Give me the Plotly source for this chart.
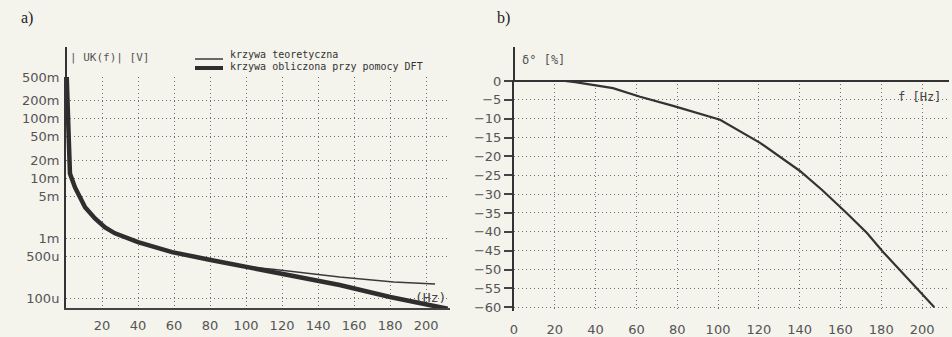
import plotly.graph_objects as go

# ---- data ----
f_theor = [0.4, 1.0, 1.5, 2.2, 5, 10.6, 16.1, 21.7, 27.2, 40, 58.9, 81.1, 101, 115, 152, 182, 205]
u_theor = [0.5, 0.2, 0.05, 0.0121, 0.0071, 0.0033, 0.00215, 0.00152, 0.00121, 0.00086, 0.000585,
           0.00043, 0.00033, 0.000304, 0.000224, 0.000185, 0.000171]

f_dft = [0.4, 1.0, 1.5, 2.2, 5, 10.6, 16.1, 21.7, 27.2, 40, 58.9, 81.1, 101, 125, 152, 180, 208, 212]
u_dft = [0.5, 0.2, 0.05, 0.0121, 0.0071, 0.0033, 0.00215, 0.00152, 0.00121, 0.00086, 0.000585,
         0.00043, 0.00033, 0.000238, 0.000165, 0.000104, 0.000068, 0.000066]

f_phase = [20, 25, 30, 40, 48.5, 61.8, 78, 101, 120.6, 140, 151, 163, 173, 181, 189, 197.5, 206]
phase = [0, 0, -0.3, -1.1, -1.9, -4.2, -6.6, -10.3, -16.4, -23.8, -28.9, -35, -40.3, -45.4, -50.1, -55, -60]

mag_tickvals = [1e-4, 5e-4, 1e-3, 5e-3, 1e-2, 2e-2, 5e-2, 0.1, 0.2, 0.5]
mag_ticktext = ["100u", "500u", "1m", "5m", "10m", "20m", "50m", "100m", "200m", "500m"]
freq_ticks_a = [20, 40, 60, 80, 100, 120, 140, 160, 180, 200]
freq_ticks_b = [0, 20, 40, 60, 80, 100, 120, 140, 160, 180, 200]
phase_ticks = [0, -5, -10, -15, -20, -25, -30, -35, -40, -45, -50, -55, -60]

legend_names = ["krzywa teoretyczna", "krzywa obliczona przy pomocy DFT"]

W, H = 952, 337
BG = "#f4f3ec"
TXT = "#555555"
GRID = "#6f6f6f"
DOTS = "1px,3px"


def dx(a, b):
    return [a / W, b / W]


def dy(top, bottom):
    return [1 - bottom / H, 1 - top / H]


fig = go.Figure()

fig.add_trace(go.Scatter(x=f_theor, y=u_theor, mode="lines", name=legend_names[0],
                         line=dict(color="#3a3a3a", width=1.5), xaxis="x", yaxis="y"))
fig.add_trace(go.Scatter(x=f_dft, y=u_dft, mode="lines", name=legend_names[1],
                         line=dict(color="#2e2e2e", width=4.5), xaxis="x", yaxis="y"))
fig.add_trace(go.Scatter(x=f_phase, y=phase, mode="lines", showlegend=False,
                         line=dict(color="#333333", width=2.2), xaxis="x2", yaxis="y2"))

tickfont = dict(family="DejaVu Sans", size=13, color=TXT)

fig.update_layout(
    width=W, height=H,
    margin=dict(l=0, r=0, t=0, b=0, pad=0, autoexpand=False),
    paper_bgcolor=BG, plot_bgcolor=BG,
    showlegend=False,
    xaxis=dict(domain=dx(66, 450), range=[0, 213.3], anchor="y", automargin=False,
               tickvals=freq_ticks_a, tickfont=tickfont,
               showgrid=True, gridcolor=GRID, griddash=DOTS, gridwidth=1,
               showline=True, linecolor="#444", linewidth=2,
               ticks="outside", ticklen=4, tickcolor="rgba(0,0,0,0)", zeroline=False),
    yaxis=dict(domain=dy(77, 308), type="log", range=[-4.167, -0.301], anchor="x", automargin=False,
               tickvals=mag_tickvals, ticktext=mag_ticktext, tickfont=tickfont,
               showgrid=True, gridcolor=GRID, griddash=DOTS, gridwidth=1,
               showline=True, linecolor="#333", linewidth=2,
               ticks="outside", ticklen=2, tickcolor="rgba(0,0,0,0)", zeroline=False),
    xaxis2=dict(domain=dx(514, 949), range=[0, 213.2], anchor="y2", automargin=False,
                tickvals=freq_ticks_b, tickfont=tickfont,
                showgrid=True, gridcolor=GRID, griddash=DOTS, gridwidth=1,
                showline=False, ticks="outside", ticklen=6, tickcolor="rgba(0,0,0,0)",
                zeroline=False),
    yaxis2=dict(domain=dy(80, 311), range=[-61.0, 0.26], anchor="x2", automargin=False,
                tickvals=phase_ticks, tickfont=tickfont,
                showgrid=True, gridcolor=GRID, griddash=DOTS, gridwidth=1,
                showline=True, linecolor="#333", linewidth=2,
                ticks="outside", ticklen=8, tickcolor="#444", tickwidth=1.5,
                zeroline=True, zerolinecolor="#333", zerolinewidth=2),
)

shapes = [
    # upward extension of axis lines
    dict(type="line", x0=66 / W, x1=66 / W, y0=1 - 77 / H, y1=1 - 47 / H,
         line=dict(color="#333", width=2)),
    dict(type="line", x0=514 / W, x1=514 / W, y0=1 - 80 / H, y1=1 - 47 / H,
         line=dict(color="#333", width=2)),
    # legend samples
    dict(type="line", x0=195 / W, x1=223 / W, y0=1 - 59 / H, y1=1 - 59 / H,
         line=dict(color="#3a3a3a", width=1.5)),
    dict(type="line", x0=195 / W, x1=223 / W, y0=1 - 68 / H, y1=1 - 68 / H,
         line=dict(color="#2e2e2e", width=4)),
]
for s in shapes:
    s.update(xref="paper", yref="paper")

mono = "DejaVu Sans Mono"
ann = [
    dict(text="a)", x=19 / W, y=1 - 18 / H, font=dict(family="Liberation Serif", size=16, color="#222")),
    dict(text="b)", x=495 / W, y=1 - 18 / H, font=dict(family="Liberation Serif", size=16, color="#222")),
    dict(text="| UK(f)| [V]", x=68 / W, y=1 - 58 / H, font=dict(family=mono, size=11, color="#555")),
    dict(text="δ° [%]", x=520 / W, y=1 - 60 / H, font=dict(family=mono, size=12, color="#555")),
    dict(text="(Hz)", x=413 / W, y=1 - 297 / H, font=dict(family=mono, size=13, color="#444")),
    dict(text="f [Hz]", x=896 / W, y=1 - 97 / H, font=dict(family=mono, size=12, color="#444")),
    dict(text=legend_names[0], x=228 / W, y=1 - 55 / H, font=dict(family=mono, size=10, color="#333")),
    dict(text=legend_names[1], x=228 / W, y=1 - 66 / H, font=dict(family=mono, size=10, color="#333")),
]
for a in ann:
    a.update(xref="paper", yref="paper", xanchor="left", yanchor="middle", showarrow=False)
fig.update_layout(annotations=ann, shapes=shapes)

fig.write_html("out.html")
